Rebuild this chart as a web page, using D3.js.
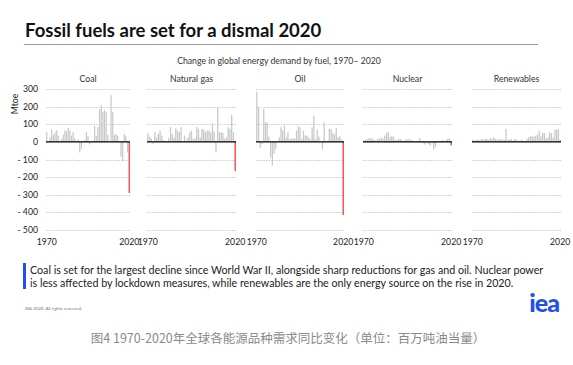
<!DOCTYPE html>
<html lang="en">
<head>
<meta charset="UTF-8">
<title>Fossil fuels are set for a dismal 2020</title>
<style>
body { margin:0; background:#fff; }
svg text { font-family: 'Lato', 'Open Sans', sans-serif; }
</style>
</head>
<body>
<svg id="chart" width="573" height="365"></svg>
<script src="https://cdn.jsdelivr.net/npm/d3@7"></script>
<script>
// years on the x axis of every small multiple
var years = [1970,1971,1972,1973,1974,1975,1976,1977,1978,1979,
             1980,1981,1982,1983,1984,1985,1986,1987,1988,1989,
             1990,1991,1992,1993,1994,1995,1996,1997,1998,1999,
             2000,2001,2002,2003,2004,2005,2006,2007,2008,2009,
             2010,2011,2012,2013,2014,2015,2016,2017,2018,2019,2020];

// yearly change in demand, Mtoe
var coal = [55,5,25,70,40,55,65,35,5,15, 40,65,60,80,65,35,55,20,5,15,
            -60,-40,5,10,55,35,-15,5,5,90, 35,85,185,210,170,180,170,40,5,265,
            170,40,45,35,5,-85,-110,45,35,-60, -290];
var gas = [49,30,20,-10,55,26,45,64,36,11, 5,3,21,83,45,25,77,64,55,83,
           3,36,8,26,55,64,17,21,83,74, 25,74,70,55,64,64,55,105,58,-60,
           195,55,55,51,17,26,83,74,153,55, -165];
var oil = [285,196,-36,-12,187,111,111,30,-87,-134, -68,-40,5,26,83,64,92,26,55,15,
           20,18,20,64,89,83,15,64,36,36, 26,15,83,149,15,70,30,3,-40,111,
           3,5,74,74,51,43,79,26,32,15, -415];
var nuclear = [8,10,15,22,20,18,10,8,20,15, 25,18,35,50,55,28,32,30,12,10,
               18,15,10,5,15,12,18,10,8,2, -3,5,22,3,-8,-15,2,-12,-20,-5,
               -45,-30,-3,4,5,12,3,10,18,20, -20];
var renewables = [13,8,10,13,8,17,13,15,17,11, 21,17,26,17,13,17,13,13,11,74,
                  11,13,17,8,17,11,8,6,13,6, -4,17,26,32,32,30,36,40,64,30,
                  51,51,20,26,55,50,25,68,70,72, 8];

var fuels = ["Coal", "Natural gas", "Oil", "Nuclear", "Renewables"];
var series = [coal, gas, oil, nuclear, renewables];
var yTicks = [300,200,100,0,-100,-200,-300,-400,-500];

var svg = d3.select("#chart");

svg.append("text")
  .attr("x", 25).attr("y", 37)
  .style("font-size", "18.5px").style("font-weight", 700)
  .attr("fill", "#111")
  .text("Fossil fuels are set for a dismal 2020");

svg.append("line")
  .attr("x1", 24).attr("x2", 538).attr("y1", 44.5).attr("y2", 44.5)
  .attr("stroke", "#9a9a9a").attr("stroke-width", 1);

svg.append("text")
  .attr("x", 279).attr("y", 64)
  .attr("text-anchor", "middle")
  .style("font-size", "8.7px").attr("fill", "#333")
  .text("Change in global energy demand by fuel, 1970\u2013 2020");

var y = d3.scaleLinear().domain([-500, 300]).range([230, 89]);

var panelLeft = [46, 147, 256, 363, 472];
var panelWidth = [84, 89, 88, 89, 89];

fuels.forEach(function (name, k) {
  var x = d3.scaleBand()
    .domain(years)
    .range([panelLeft[k], panelLeft[k] + panelWidth[k]])
    .paddingInner(0.25)
    .paddingOuter(0.1);

  var g = svg.append("g").attr("class", "panel");

  // dotted grid
  g.selectAll("line.grid")
    .data(yTicks.filter(function (d) { return d !== 0; }))
    .enter().append("line")
      .attr("class", "grid")
      .attr("x1", panelLeft[k]).attr("x2", panelLeft[k] + panelWidth[k])
      .attr("y1", function (d) { return Math.round(y(d)) + 0.5; })
      .attr("y2", function (d) { return Math.round(y(d)) + 0.5; })
      .attr("stroke", "#c4c4c4")
      .attr("stroke-dasharray", "1.5,1")
      .attr("stroke-width", 0.8);

  var vals = series[k].map(function (v, i) { return {year: years[i], value: v}; });

  g.selectAll("rect.bar")
    .data(vals)
    .enter().append("rect")
      .attr("class", "bar")
      .attr("x", function (d) { return x(d.year); })
      .attr("width", x.bandwidth())
      .attr("y", function (d) { return y(Math.max(0, d.value)); })
      .attr("height", function (d) { return Math.abs(y(d.value) - y(0)); })
      .attr("fill", function (d) { return d.year === 2020 ? "#f23a3a" : "#c9c9c9"; });

  g.append("line")
    .attr("x1", panelLeft[k]).attr("x2", panelLeft[k] + panelWidth[k])
    .attr("y1", y(0)).attr("y2", y(0))
    .attr("stroke", "#000").attr("stroke-width", 1.4);

  g.append("text")
    .attr("x", panelLeft[k] + panelWidth[k] / 2).attr("y", 82)
    .attr("text-anchor", "middle")
    .style("font-size", "8.7px").attr("fill", "#333")
    .text(name);

  g.selectAll("text.year")
    .data([1970, 2020])
    .enter().append("text")
      .attr("class", "year")
      .attr("x", function (d) { return x(d) + x.bandwidth() / 2; })
      .attr("y", 245)
      .attr("text-anchor", "middle")
      .style("font-size", "8.7px").attr("fill", "#222")
      .text(function (d) { return d; });

  if (k === 0) {
    g.selectAll("text.ytick")
      .data(yTicks)
      .enter().append("text")
        .attr("class", "ytick")
        .attr("x", 38)
        .attr("y", function (d) { return y(d) + 3; })
        .attr("text-anchor", "end")
        .style("font-size", "8.7px").attr("fill", "#222")
        .text(function (d) { return d < 0 ? "- " + Math.abs(d) : d; });

    g.append("text")
      .attr("transform", "translate(18,104) rotate(-90)")
      .attr("text-anchor", "middle")
      .style("font-size", "8.7px").attr("fill", "#222")
      .text("Mtoe");
  }
});

// note under the chart
svg.append("rect")
  .attr("x", 23).attr("y", 263).attr("width", 3).attr("height", 26)
  .attr("fill", "#1f4ff0");

var note = svg.append("text")
  .style("font-size", "10.7px").attr("fill", "#222");
note.append("tspan").attr("x", 30).attr("y", 274)
  .text("Coal is set for the largest decline since World War II, alongside sharp reductions for gas and oil. Nuclear power");
note.append("tspan").attr("x", 30).attr("y", 287)
  .text("is less affected by lockdown measures, while renewables are the only energy source on the rise in 2020.");

svg.append("text")
  .attr("x", 25).attr("y", 310)
  .style("font-size", "4.5px").attr("fill", "#777")
  .text("IEA 2020. All rights reserved.");

svg.append("text")
  .attr("x", 559).attr("y", 312)
  .attr("text-anchor", "end")
  .style("font-size", "25px").style("font-weight", 900)
  .attr("fill", "#1f4ff0")
  .style("letter-spacing", "-1px")
  .text("iea");

svg.append("text")
  .attr("x", 288).attr("y", 343)
  .attr("text-anchor", "middle")
  .style("font-family", "'Noto Sans CJK SC', sans-serif")
  .style("font-size", "12.5px").attr("fill", "#8a8a8a")
  .text("图4 1970-2020年全球各能源品种需求同比变化（单位：百万吨油当量）");
</script>
</body>
</html>
